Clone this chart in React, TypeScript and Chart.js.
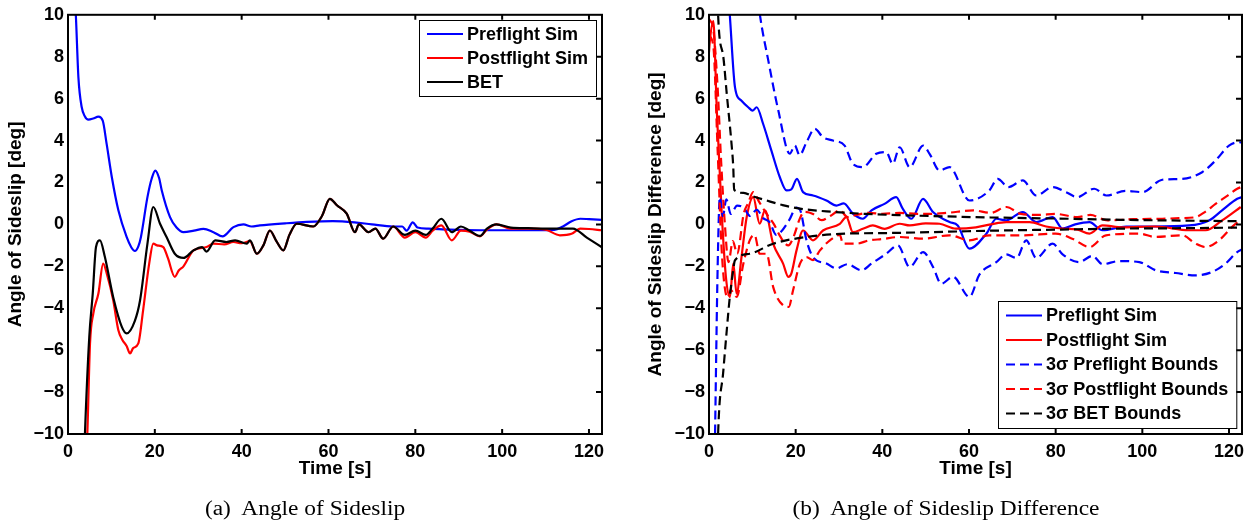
import React, { useEffect, useRef } from "react";
import { Chart, registerables } from "chart.js";

Chart.register(...registerables);

// ---------- shared ticks ----------
const xTickValues = [0, 20, 40, 60, 80, 100, 120];
const yTickValues = [-10, -8, -6, -4, -2, 0, 2, 4, 6, 8, 10];
const xMin = 0;
const xMax = 123;
const yMin = -10;
const yMax = 10;

// ---------- (a) Angle of Sideslip ----------
const aPreT = [0, 1, 1.8, 2.4, 3.15, 3.9, 4.7, 5.8, 7.0, 8.0, 8.9, 10.1, 11.6, 13.5, 14.6, 15.4, 16.2, 16.8, 18.3, 19.3, 20.1, 21.0, 21.6, 23.5, 25.0, 26.6, 29.0, 31.2, 33.5, 35.6, 38.1, 40.4, 42.3, 44.2, 50, 55, 61, 66, 70, 74.9, 77, 78, 79.4, 80.5, 83, 88, 95, 105, 112, 114, 116, 118, 120, 122.9];
const aPreV = [16, 12.5, 10, 7.0, 5.6, 5.15, 5.0, 5.05, 5.14, 4.95, 3.84, 2.25, 0.67, -0.6, -1.1, -1.27, -1.05, -0.6, 1.3, 2.2, 2.57, 2.2, 1.62, 0.35, -0.15, -0.37, -0.3, -0.21, -0.37, -0.57, -0.13, 0, -0.1, -0.05, 0.05, 0.12, 0.16, 0.1, 0.0, -0.1, -0.1, -0.3, 0.1, -0.15, -0.2, -0.25, -0.28, -0.28, -0.26, -0.1, 0.15, 0.27, 0.25, 0.22];

const aPostT = [3.5, 4.45, 5.07, 5.83, 7.0, 8.1, 9.0, 10.4, 11.6, 12.5, 13.5, 14.3, 15.0, 16.2, 17.3, 18.7, 19.65, 20.5, 21.95, 23.0, 24.6, 25.5, 26.6, 28.9, 31.9, 33.5, 36.0, 38.1, 40.0, 41.9, 43.5, 45.0, 46.5, 48.0, 49.6, 51.0, 52.7, 56.5, 58.5, 60.3, 62.0, 64.2, 66.1, 67.0, 69.2, 70.8, 72.6, 74.9, 77.6, 80.0, 82.4, 84.0, 86.0, 88.4, 90.5, 92.5, 94.9, 96.5, 98.7, 102, 106, 110, 113.3, 116, 118, 120, 122.9];
const aPostV = [-14, -10, -5.68, -4.25, -3.3, -1.87, -2.4, -3.6, -5.05, -5.5, -5.8, -6.16, -5.9, -5.68, -4.1, -1.87, -0.92, -1.0, -1.08, -1.6, -2.5, -2.2, -2.0, -1.24, -1.08, -0.92, -0.95, -0.84, -0.9, -0.8, -1.4, -1.0, -0.3, -0.8, -1.24, -0.5, 0.03, -0.1, 0.4, 1.22, 0.9, 0.51, -0.37, 0.0, -0.37, -0.2, -0.68, -0.1, -0.63, -0.37, -0.63, -0.3, -0.05, -0.76, -0.3, -0.35, -0.57, -0.25, 0.0, -0.2, -0.2, -0.25, -0.52, -0.45, -0.2, -0.22, -0.28];

const aBetT = [3.0, 3.9, 4.9, 5.7, 6.45, 7.37, 8.5, 10.4, 12.4, 13.5, 15.4, 16.6, 18.3, 19.65, 21.2, 22.7, 24.6, 26.6, 28.9, 30.9, 31.9, 33.9, 36.5, 38.5, 41.2, 41.9, 43.5, 45.0, 46.5, 48.0, 49.6, 51.0, 52.7, 56.5, 58.5, 60.3, 62.0, 64.2, 66.1, 67.0, 69.2, 70.8, 72.6, 74.9, 77.6, 80.0, 82.4, 84.0, 86.0, 88.4, 90.5, 92.5, 94.9, 96.5, 98.7, 102, 106, 110, 113, 116.3, 119.5, 122.9];
const aBetV = [-16, -10, -5.37, -3.3, -1.08, -0.76, -1.56, -3.46, -4.89, -5.2, -4.6, -3.62, -0.92, 0.83, 0.03, -0.6, -1.4, -1.6, -1.24, -1.08, -1.3, -0.76, -0.84, -0.76, -0.92, -0.76, -1.4, -1.0, -0.29, -0.8, -1.24, -0.5, 0.03, -0.1, 0.4, 1.22, 0.9, 0.51, -0.37, 0.0, -0.37, -0.2, -0.68, -0.1, -0.5, -0.3, -0.5, -0.2, 0.27, -0.37, -0.1, -0.3, -0.55, -0.2, 0.0, -0.15, -0.18, -0.2, -0.2, -0.2, -0.63, -1.08];

// ---------- (b) Angle of Sideslip Difference ----------
const bPreT = [0, 2, 4.8, 6.0, 7.5, 9.05, 10.1, 11.0, 12.5, 14.4, 16.35, 17.9, 19.0, 20.3, 21.7, 24.0, 27.1, 29.4, 31.1, 33.2, 35.5, 37.5, 40.5, 43.2, 44.7, 46.7, 49.4, 51.7, 55.5, 57.4, 60.1, 64.0, 66.3, 68.6, 72.4, 75.5, 79.3, 81.6, 84.5, 87.8, 90.8, 96.3, 102.4, 110.8, 115.4, 118.4, 121.9, 123];
const bPreV = [30, 18, 10, 6.54, 5.9, 5.59, 5.43, 5.59, 4.79, 3.52, 2.25, 1.62, 1.67, 2.17, 1.54, 1.38, 1.14, 0.9, 1.0, 0.51, 0.27, 0.67, 0.98, 1.3, 0.75, 0.27, 1.22, 0.59, 0.11, -0.05, -1.16, -0.44, 0.27, 0.19, 0.59, 0.11, 0.35, -0.2, 0.0, 0.11, -0.28, -0.1, -0.1, -0.05, 0.19, 0.67, 1.22, 1.3];

const bPostT = [0, 0.2, 1.0, 1.8, 2.9, 3.9, 4.84, 5.6, 6.37, 7.5, 8.7, 10.2, 11.7, 12.9, 14.8, 17.1, 18.3, 19.0, 20.2, 21.7, 24.0, 26.3, 30.2, 31.7, 33.2, 35.5, 37.8, 40.5, 44.0, 46.3, 50.0, 53.2, 57.0, 61.6, 65.0, 68.6, 74.0, 77.8, 81.6, 85.0, 87.8, 90.8, 95.4, 103, 110.8, 114.6, 118.4, 122.7];
const bPostV = [8.2, 8.76, 9.7, 5.43, 0.67, -2.5, -3.46, -1.87, -3.3, -1.56, 0.35, 1.3, 0.03, 0.67, -0.92, -1.87, -2.5, -2.35, -1.24, -0.29, -0.76, -0.29, 0.03, 0.35, -0.37, -0.21, -0.05, -0.21, 0.03, -0.05, 0.05, 0.03, -0.2, -0.14, 0.0, 0.11, 0.11, -0.1, -0.2, -0.25, -0.44, -0.05, -0.14, -0.1, -0.28, -0.28, 0.19, 0.83];

const bPreUpT = [0, 5, 11.75, 13.7, 16.0, 18.65, 19.8, 20.9, 22.5, 24.4, 26.3, 28.6, 31.3, 33.2, 35.5, 38.6, 40.9, 42.4, 44.0, 46.3, 49.4, 50.9, 53.2, 55.5, 60.1, 64.7, 66.6, 69.1, 72.4, 75.5, 79.3, 82.4, 85.0, 88.9, 91.7, 96.2, 100, 104.6, 109.2, 113.8, 116.9, 120, 122.3, 123];
const bPreUpV = [40, 22, 10, 7.8, 5.43, 3.37, 3.76, 3.3, 3.92, 4.56, 4.16, 4.0, 3.76, 2.89, 2.73, 3.37, 3.45, 2.89, 3.68, 2.73, 3.76, 3.37, 2.57, 2.73, 1.14, 1.62, 2.17, 1.78, 2.1, 1.38, 1.78, 1.54, 1.3, 1.7, 1.38, 1.6, 1.54, 2.13, 2.17, 2.49, 3.05, 3.76, 3.92, 3.9];

const bPreLoT = [0, 1.4, 2.0, 2.5, 3.2, 4.0, 5.0, 6.5, 8.0, 9.5, 11.0, 12.5, 14.0, 15.5, 16.4, 18.5, 20.2, 21.0, 22.5, 24.0, 27.1, 29.4, 31.9, 35.2, 37.5, 40.9, 43.6, 46.3, 49.4, 51.7, 53.6, 56.3, 60.1, 62.4, 66.3, 68.6, 71.0, 73.2, 75.5, 79.3, 81.6, 85.4, 88.5, 90.8, 94.6, 99.3, 103.1, 107.7, 112.3, 116.1, 119.2, 121.9, 123];
const bPreLoV = [-30, -10, -2, 1.3, 0.4, 1.2, 0.5, 0.9, 0.8, 0.4, 0.7, 0.3, 0.1, -0.5, -0.4, 0.2, 0.8, 0.7, -0.76, -1.56, -1.87, -2.1, -1.9, -2.19, -1.87, -1.4, -1.0, -2.03, -1.32, -2.03, -2.83, -2.5, -3.46, -2.4, -1.8, -1.43, -1.6, -0.76, -1.6, -0.92, -1.43, -1.8, -1.5, -1.9, -1.75, -1.8, -2.19, -2.32, -2.43, -2.27, -1.87, -1.32, -1.2];

const bPostUpT = [0, 1.0, 2.0, 2.8, 3.6, 4.5, 5.5, 6.5, 8.0, 9.0, 10.2, 11.5, 13.3, 15.0, 16.5, 18.3, 19.5, 21.0, 22.0, 24.0, 26.0, 28.0, 30.2, 32.0, 34.0, 37.0, 40.0, 44.0, 48.0, 51.0, 55.0, 61.0, 65.0, 68.6, 72.0, 76.0, 80.0, 85.0, 88.0, 92.0, 98.0, 104.6, 109.0, 112.3, 114.5, 116.9, 119.5, 121.9, 123];
const bPostUpV = [9.8, 9.3, 6.5, 3.0, 0.2, -1.8, -0.8, -1.4, 0.5, 1.0, 1.54, 1.1, 0.5, 0.0, -0.6, -1.0, -0.6, 0.3, 0.6, 0.5, 0.2, 0.4, 0.67, 0.35, 0.45, 0.55, 0.5, 0.55, 0.5, 0.5, 0.55, 0.67, 0.55, 0.83, 0.5, 0.45, 0.5, 0.35, 0.45, 0.19, 0.25, 0.27, 0.3, 0.35, 0.6, 0.98, 1.35, 1.7, 1.8];

const bPostLoT = [0, 1.0, 2.0, 3.0, 4.3, 5.0, 6.4, 7.9, 9.4, 10.5, 11.7, 13.3, 14.8, 17.1, 18.4, 19.4, 21.0, 22.5, 24.0, 25.6, 27.9, 30.2, 30.9, 34.0, 37.0, 40.0, 44.0, 49.4, 55.5, 60.1, 64.7, 72.4, 80.0, 84.0, 87.8, 91.6, 99.3, 103.0, 109.2, 112.3, 114.6, 117.7, 121.5, 123];
const bPostLoV = [9.0, 8.5, 3.5, -1.5, -3.5, -3.14, -3.46, -1.9, -0.76, -0.5, -1.4, -1.4, -2.98, -3.86, -3.94, -3.14, -1.87, -1.56, -1.7, -1.24, -0.76, -0.5, -0.92, -0.92, -0.76, -0.7, -0.6, -0.68, -0.52, -0.76, -0.52, -0.52, -0.44, -0.7, -1.08, -0.52, -0.44, -0.6, -0.52, -0.92, -1.08, -0.76, 0.03, 0.2];

const bBetUpT = [0, 2.1, 3.3, 4.1, 5.2, 5.6, 5.8, 8.0, 10.0, 13.3, 17.0, 21.0, 28.6, 36.3, 44.0, 55, 65, 80, 95, 110, 123];
const bBetUpV = [30, 10, 8, 6.22, 3.84, 2.73, 1.65, 1.5, 1.35, 1.14, 0.92, 0.75, 0.6, 0.5, 0.44, 0.38, 0.33, 0.28, 0.22, 0.18, 0.15];

const bBetLoT = [0, 2.1, 3.3, 4.1, 4.8, 5.5, 6.0, 9.4, 14.8, 22.5, 30.2, 41.8, 55, 65, 80, 95, 110, 123];
const bBetLoV = [-30, -10, -7, -5.05, -3.46, -2.3, -1.71, -1.4, -0.92, -0.6, -0.45, -0.41, -0.35, -0.3, -0.25, -0.2, -0.18, -0.15];

// ---------- texts ----------
const legendA = ["Preflight Sim", "Postflight Sim", "BET"];
const legendB = ["Preflight Sim", "Postflight Sim", "3\u03C3 Preflight Bounds", "3\u03C3 Postflight Bounds", "3\u03C3 BET Bounds"];
const yTitleA = "Angle of Sideslip [deg]";
const yTitleB = "Angle of Sideslip Difference [deg]";
const xTitle = "Time [s]";
const captionA = "(a)  Angle of Sideslip";
const captionB = "(b)  Angle of Sideslip Difference";

// ---------- styles ----------
const BLUE = "#0000ff";
const RED = "#ff0000";
const BLACK = "#000000";
const DASH = [9, 5];
const SANS = "'Liberation Sans', Arial, Helvetica, sans-serif";

const pts = (t: number[], v: number[]) => t.map((x, i) => ({ x, y: v[i] }));

const line = (label: string, t: number[], v: number[], color: string, dash: number[], order: number) => ({
  label,
  data: pts(t, v),
  borderColor: color,
  backgroundColor: color,
  borderWidth: 2.2,
  borderDash: dash,
  pointRadius: 0,
  fill: false,
  tension: 0,
  cubicInterpolationMode: "monotone",
  order,
});

const fmt = (v: number) => (v < 0 ? "\u2212" + Math.abs(v) : String(v));

const frameLegendPlugin = {
  id: "frameLegend",
  afterDatasetsDraw(chart: any, _args: any, opts: any) {
    const { ctx, chartArea: a, scales } = chart;
    ctx.save();
    ctx.setLineDash([]);
    ctx.strokeStyle = "#000";
    ctx.lineWidth = 2;
    ctx.beginPath();
    for (const v of xTickValues) {
      const px = scales.x.getPixelForValue(v);
      if (px <= a.left + 1 || px >= a.right - 1) continue;
      ctx.moveTo(px, a.top);
      ctx.lineTo(px, a.top + 5);
      ctx.moveTo(px, a.bottom);
      ctx.lineTo(px, a.bottom - 5);
    }
    for (const v of yTickValues) {
      const py = scales.y.getPixelForValue(v);
      if (py <= a.top + 1 || py >= a.bottom - 1) continue;
      ctx.moveTo(a.right, py);
      ctx.lineTo(a.right - 6, py);
    }
    ctx.stroke();
    ctx.strokeRect(a.left, a.top, a.right - a.left, a.bottom - a.top);

    // legend
    const entries = opts.entries as { label: string; color: string; dash: number[] }[];
    ctx.font = `bold 18px ${SANS}`;
    const maxW = Math.max(...entries.map((e) => ctx.measureText(e.label).width));
    const rowH = opts.rowH;
    const padY = opts.padY;
    const padL = 8;
    const lineLen = 36;
    const gap = 4;
    const padR = 8;
    const w = padL + lineLen + gap + maxW + padR;
    const h = padY * 2 + (entries.length - 1) * rowH;
    const x0 = Math.round(a.right - 6 - w);
    const y0 = Math.round(opts.corner === "top" ? a.top + 5 : a.bottom - 6 - h);
    ctx.fillStyle = "#fff";
    ctx.fillRect(x0, y0, w, h);
    ctx.lineWidth = 1;
    ctx.strokeStyle = "#000";
    ctx.strokeRect(x0 + 0.5, y0 + 0.5, w, h);
    entries.forEach((e, i) => {
      const cy = y0 + padY + i * rowH;
      ctx.strokeStyle = e.color;
      ctx.lineWidth = 2.2;
      ctx.setLineDash(e.dash);
      ctx.beginPath();
      ctx.moveTo(x0 + padL, cy);
      ctx.lineTo(x0 + padL + lineLen, cy);
      ctx.stroke();
      ctx.setLineDash([]);
      ctx.fillStyle = "#000";
      ctx.textBaseline = "middle";
      ctx.textAlign = "left";
      ctx.fillText(e.label, x0 + padL + lineLen + gap, cy + 1);
    });
    ctx.restore();
  },
};

function makeConfig(datasets: any[], yTitle: string, yAxisWidth: number, yTitlePad: number, rightPad: number, legend: any) {
  return {
    type: "line",
    data: { datasets },
    plugins: [frameLegendPlugin],
    options: {
      animation: false,
      responsive: false,
      maintainAspectRatio: false,
      events: [],
      layout: { padding: { left: 0, right: rightPad, top: 14, bottom: 30 } },
      plugins: {
        legend: { display: false },
        tooltip: { enabled: false },
        frameLegend: legend,
      },
      scales: {
        x: {
          type: "linear",
          min: xMin,
          max: xMax,
          grid: { display: false, drawTicks: false },
          border: { display: false },
          afterBuildTicks: (s: any) => {
            s.ticks = xTickValues.map((value) => ({ value }));
          },
          afterFit: (s: any) => {
            s.height = 60;
          },
          ticks: {
            autoSkip: false,
            maxRotation: 0,
            padding: 7,
            color: "#000",
            font: { family: SANS, size: 18, weight: "bold" },
            callback: (v: number) => fmt(v),
          },
          title: {
            display: true,
            text: xTitle,
            color: "#000",
            font: { family: SANS, size: 19, weight: "bold" },
            padding: { top: 0, bottom: 14 },
          },
        },
        y: {
          type: "linear",
          min: yMin,
          max: yMax,
          grid: { display: false, drawTicks: false },
          border: { display: false },
          afterBuildTicks: (s: any) => {
            s.ticks = yTickValues.map((value) => ({ value }));
          },
          afterFit: (s: any) => {
            s.width = yAxisWidth;
          },
          ticks: {
            autoSkip: false,
            padding: 4,
            color: "#000",
            font: { family: SANS, size: 18, weight: "bold" },
            callback: (v: number) => fmt(v),
          },
          title: {
            display: true,
            text: yTitle,
            color: "#000",
            font: { family: SANS, size: 19, weight: "bold" },
            padding: { top: yTitlePad, bottom: 0 },
          },
        },
      },
    },
  };
}

export default function App() {
  const refA = useRef<HTMLCanvasElement | null>(null);
  const refB = useRef<HTMLCanvasElement | null>(null);

  useEffect(() => {
    const dsA = [
      line(legendA[0], aPreT, aPreV, BLUE, [], 3),
      line(legendA[1], aPostT, aPostV, RED, [], 2),
      line(legendA[2], aBetT, aBetV, BLACK, [], 1),
    ];
    const dsB = [
      line(legendB[0], bPreT, bPreV, BLUE, [], 8),
      line(legendB[1], bPostT, bPostV, RED, [], 7),
      line(legendB[2], bPreUpT, bPreUpV, BLUE, DASH, 6),
      line(legendB[2], bPreLoT, bPreLoV, BLUE, DASH, 5),
      line(legendB[3], bPostUpT, bPostUpV, RED, DASH, 4),
      line(legendB[3], bPostLoT, bPostLoV, RED, DASH, 3),
      line(legendB[4], bBetUpT, bBetUpV, BLACK, DASH, 2),
      line(legendB[4], bBetLoT, bBetLoV, BLACK, DASH, 1),
    ];
    const legA = {
      corner: "top",
      rowH: 24,
      padY: 14,
      entries: [
        { label: legendA[0], color: BLUE, dash: [] },
        { label: legendA[1], color: RED, dash: [] },
        { label: legendA[2], color: BLACK, dash: [] },
      ],
    };
    const legB = {
      corner: "bottom",
      rowH: 24.5,
      padY: 14.5,
      entries: [
        { label: legendB[0], color: BLUE, dash: [] },
        { label: legendB[1], color: RED, dash: [] },
        { label: legendB[2], color: BLUE, dash: DASH },
        { label: legendB[3], color: RED, dash: DASH },
        { label: legendB[4], color: BLACK, dash: DASH },
      ],
    };
    const chartA = new Chart(refA.current as HTMLCanvasElement, makeConfig(dsA, yTitleA, 68, 4, 27, legA) as any);
    const chartB = new Chart(refB.current as HTMLCanvasElement, makeConfig(dsB, yTitleB, 80, 15, 16, legB) as any);
    return () => {
      chartA.destroy();
      chartB.destroy();
    };
  }, []);

  const captionStyle: React.CSSProperties = {
    position: "absolute",
    width: 420,
    top: 496,
    lineHeight: "24px",
    textAlign: "center",
    fontFamily: "'Liberation Serif', 'Times New Roman', serif",
    fontSize: 20,
    whiteSpace: "pre",
    color: "#000",
    transform: "scaleX(1.17)",
  };

  return (
    <div style={{ position: "fixed", left: 0, top: 0, width: 1258, height: 524, background: "#fff", overflow: "hidden" }}>
      <canvas ref={refA} width={629} height={524} style={{ position: "absolute", left: 0, top: 0, width: 629, height: 524 }} />
      <canvas ref={refB} width={629} height={524} style={{ position: "absolute", left: 629, top: 0, width: 629, height: 524 }} />
      <div style={{ ...captionStyle, left: 305 - 210 }}>{captionA}</div>
      <div style={{ ...captionStyle, left: 946 - 210 }}>{captionB}</div>
    </div>
  );
}
